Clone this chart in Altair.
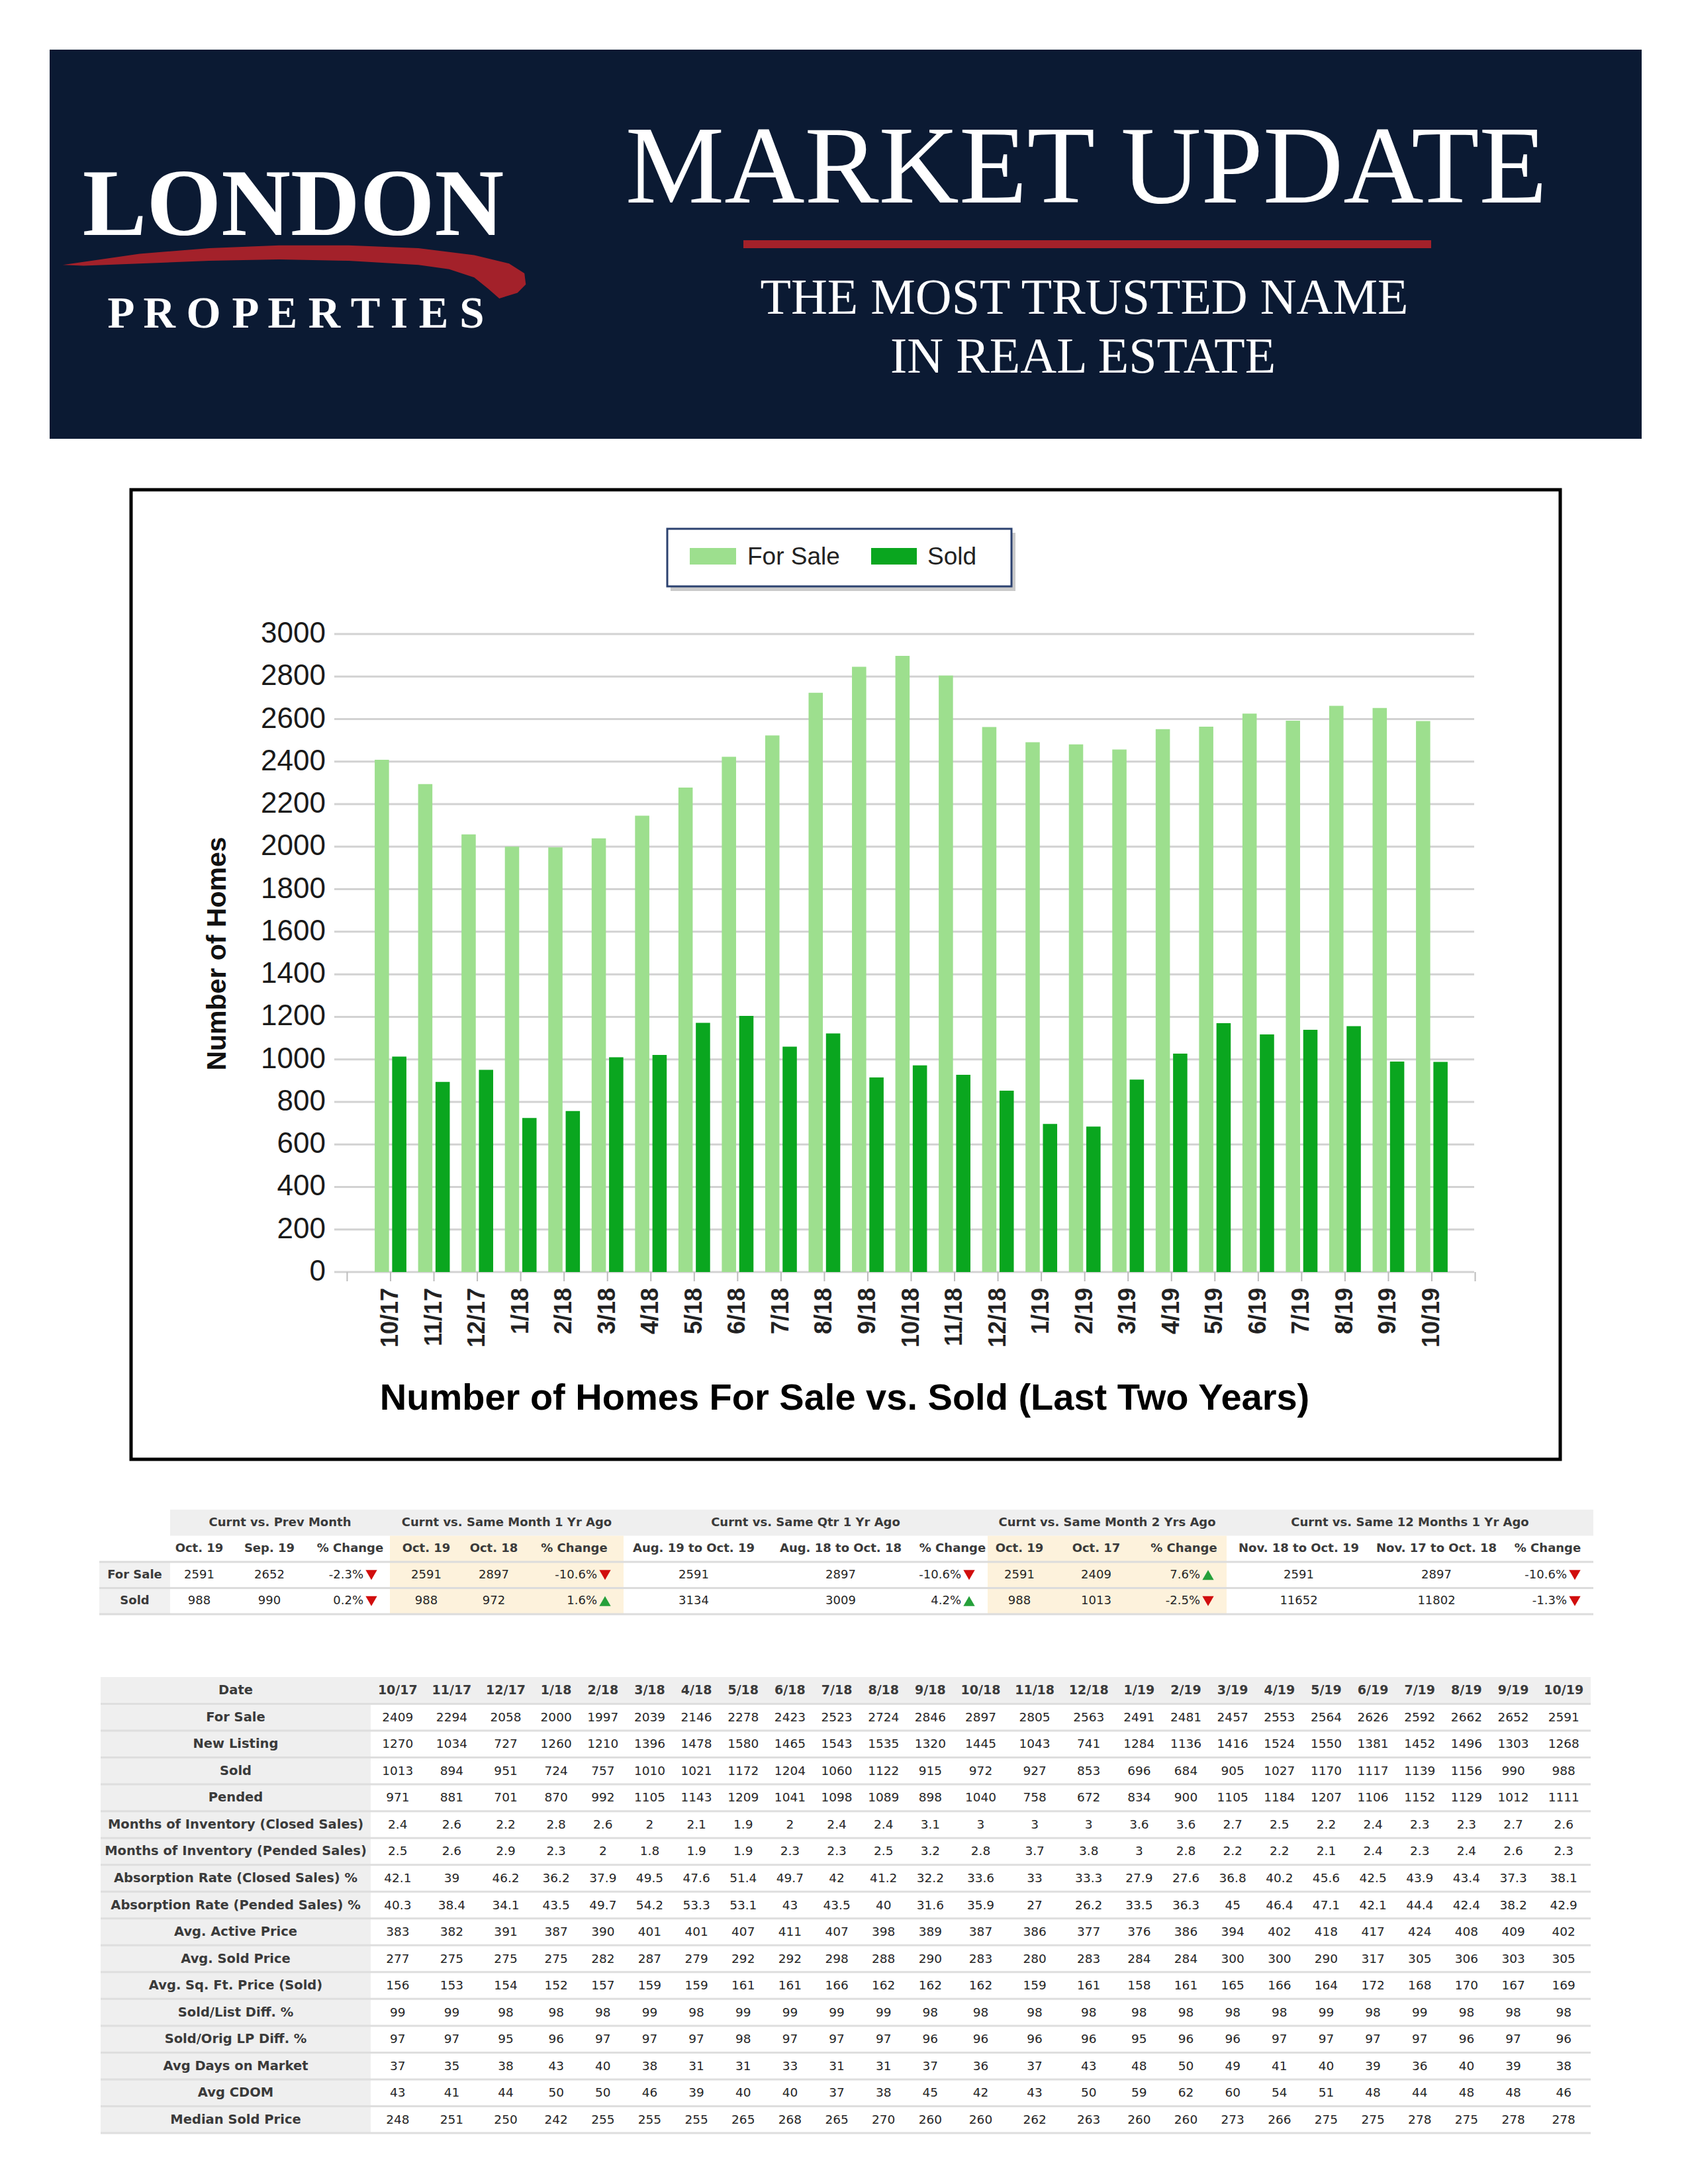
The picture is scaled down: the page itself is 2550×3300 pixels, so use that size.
import altair as alt
import pandas as pd

# ---------------------------------------------------------------- data
dates = ["10/17", "11/17", "12/17", "1/18", "2/18", "3/18", "4/18", "5/18", "6/18", "7/18",
         "8/18", "9/18", "10/18", "11/18", "12/18", "1/19", "2/19", "3/19", "4/19", "5/19",
         "6/19", "7/19", "8/19", "9/19", "10/19"]
for_sale = [2409, 2294, 2058, 2000, 1997, 2039, 2146, 2278, 2423, 2523, 2724, 2846, 2897, 2805, 2563,
            2491, 2481, 2457, 2553, 2564, 2626, 2592, 2662, 2652, 2591]
new_listing = [1270, 1034, 727, 1260, 1210, 1396, 1478, 1580, 1465, 1543, 1535, 1320, 1445, 1043, 741,
               1284, 1136, 1416, 1524, 1550, 1381, 1452, 1496, 1303, 1268]
sold = [1013, 894, 951, 724, 757, 1010, 1021, 1172, 1204, 1060, 1122, 915, 972, 927, 853,
        696, 684, 905, 1027, 1170, 1117, 1139, 1156, 990, 988]
pended = [971, 881, 701, 870, 992, 1105, 1143, 1209, 1041, 1098, 1089, 898, 1040, 758, 672,
          834, 900, 1105, 1184, 1207, 1106, 1152, 1129, 1012, 1111]
moi_closed = [2.4, 2.6, 2.2, 2.8, 2.6, 2, 2.1, 1.9, 2, 2.4, 2.4, 3.1, 3, 3, 3, 3.6, 3.6, 2.7, 2.5, 2.2,
              2.4, 2.3, 2.3, 2.7, 2.6]
moi_pended = [2.5, 2.6, 2.9, 2.3, 2, 1.8, 1.9, 1.9, 2.3, 2.3, 2.5, 3.2, 2.8, 3.7, 3.8, 3, 2.8, 2.2, 2.2, 2.1,
              2.4, 2.3, 2.4, 2.6, 2.3]
abs_closed = [42.1, 39, 46.2, 36.2, 37.9, 49.5, 47.6, 51.4, 49.7, 42, 41.2, 32.2, 33.6, 33, 33.3, 27.9, 27.6,
              36.8, 40.2, 45.6, 42.5, 43.9, 43.4, 37.3, 38.1]
abs_pended = [40.3, 38.4, 34.1, 43.5, 49.7, 54.2, 53.3, 53.1, 43, 43.5, 40, 31.6, 35.9, 27, 26.2, 33.5, 36.3,
              45, 46.4, 47.1, 42.1, 44.4, 42.4, 38.2, 42.9]
avg_active = [383, 382, 391, 387, 390, 401, 401, 407, 411, 407, 398, 389, 387, 386, 377, 376, 386, 394, 402,
              418, 417, 424, 408, 409, 402]
avg_sold = [277, 275, 275, 275, 282, 287, 279, 292, 292, 298, 288, 290, 283, 280, 283, 284, 284, 300, 300,
            290, 317, 305, 306, 303, 305]
sqft_price = [156, 153, 154, 152, 157, 159, 159, 161, 161, 166, 162, 162, 162, 159, 161, 158, 161, 165, 166,
              164, 172, 168, 170, 167, 169]
sold_list = [99, 99, 98, 98, 98, 99, 98, 99, 99, 99, 99, 98, 98, 98, 98, 98, 98, 98, 98, 99, 98, 99, 98, 98, 98]
sold_orig = [97, 97, 95, 96, 97, 97, 97, 98, 97, 97, 97, 96, 96, 96, 96, 95, 96, 96, 97, 97, 97, 97, 96, 97, 96]
dom = [37, 35, 38, 43, 40, 38, 31, 31, 33, 31, 31, 37, 36, 37, 43, 48, 50, 49, 41, 40, 39, 36, 40, 39, 38]
cdom = [43, 41, 44, 50, 50, 46, 39, 40, 40, 37, 38, 45, 42, 43, 50, 59, 62, 60, 54, 51, 48, 44, 48, 48, 46]
median_price = [248, 251, 250, 242, 255, 255, 255, 265, 268, 265, 270, 260, 260, 262, 263, 260, 260, 273, 266,
                275, 275, 278, 275, 278, 278]

series_names = ["For Sale", "Sold"]
y_ticks = [0, 200, 400, 600, 800, 1000, 1200, 1400, 1600, 1800, 2000, 2200, 2400, 2600, 2800, 3000]

t1_groups = ["Curnt vs. Prev Month", "Curnt vs. Same Month 1 Yr Ago", "Curnt vs. Same Qtr 1 Yr Ago",
             "Curnt vs. Same Month 2 Yrs Ago", "Curnt vs. Same 12 Months 1 Yr Ago"]
t1_cols = ["Oct. 19", "Sep. 19", "% Change", "Oct. 19", "Oct. 18", "% Change",
           "Aug. 19 to Oct. 19", "Aug. 18 to Oct. 18", "% Change", "Oct. 19", "Oct. 17", "% Change",
           "Nov. 18 to Oct. 19", "Nov. 17 to Oct. 18", "% Change"]
t1_for_sale = ["2591", "2652", "-2.3%", "2591", "2897", "-10.6%", "2591", "2897", "-10.6%",
               "2591", "2409", "7.6%", "2591", "2897", "-10.6%"]
t1_sold = ["988", "990", "0.2%", "988", "972", "1.6%", "3134", "3009", "4.2%",
           "988", "1013", "-2.5%", "11652", "11802", "-1.3%"]
t1_for_sale_dir = ["down", "down", "down", "up", "down"]
t1_sold_dir = ["down", "up", "up", "down", "down"]
t1_highlight_groups = [1, 3]

t2_rows = ["For Sale", "New Listing", "Sold", "Pended", "Months of Inventory (Closed Sales)",
           "Months of Inventory (Pended Sales)", "Absorption Rate (Closed Sales) %",
           "Absorption Rate (Pended Sales) %", "Avg. Active Price", "Avg. Sold Price",
           "Avg. Sq. Ft. Price (Sold)", "Sold/List Diff. %", "Sold/Orig LP Diff. %",
           "Avg Days on Market", "Avg CDOM", "Median Sold Price"]
t2_values = [for_sale, new_listing, sold, pended, moi_closed, moi_pended, abs_closed, abs_pended,
             avg_active, avg_sold, sqft_price, sold_list, sold_orig, dom, cdom, median_price]

# ---------------------------------------------------------------- layout / style
W, H = 2534, 3284
OFF = 8


def P(v):
    return v - OFF


SERIF = "Liberation Serif"
SANS = "Liberation Sans"
TAB = "DejaVu Sans"
NAVY = "#0b1a33"
RED = "#a3212a"
LIGHT_GREEN = "#9ddf8e"
DARK_GREEN = "#0aa61f"

one = pd.DataFrame({"k": [0]})


def txt(s, x, y, size, font, color, weight="normal", align="center", baseline="alphabetic", angle=0):
    return alt.Chart(one).mark_text(
        text=s, fontSize=size, font=font, color=color, fontWeight=weight,
        align=align, baseline=baseline, angle=angle
    ).encode(x=alt.value(P(x)), y=alt.value(P(y)))


def box(x0, x1, y0, y1, fill, stroke=None, sw=0, opacity=1.0):
    kw = dict(fill=fill, opacity=opacity)
    if stroke is not None:
        kw.update(stroke=stroke, strokeWidth=sw)
    return alt.Chart(one).mark_rect(**kw).encode(
        x=alt.value(P(x0)), x2=alt.value(P(x1)), y=alt.value(P(y0)), y2=alt.value(P(y1)))


layers = []

# ---------------------------------------------------------------- header
layers.append(box(75, 2480, 75, 663, NAVY))
layers.append(txt("LONDON", 443, 355, 145, SERIF, "white", "bold"))

# red swoosh logo outline (outer edge then inner edge), in half-scale page units
swoosh_outer = [(45, 190), (100, 182), (150, 178), (200, 176), (250, 176), (300, 178), (340, 183),
                (365, 189), (376, 196), (377, 204), (371, 210), (358, 214)]
swoosh_inner = [(350, 207), (340, 199), (322, 193), (300, 190), (250, 187), (200, 186), (150, 187),
                (100, 189), (60, 190.5)]
S_SCALE, S_CX, S_CY, S_UNIT = 2.107, 445, 408, 350
swoosh = "M " + " L ".join(
    f"{(a * S_SCALE - S_CX) / S_UNIT:.4f} {(b * S_SCALE - S_CY) / S_UNIT:.4f}"
    for a, b in swoosh_outer + swoosh_inner) + " Z"
layers.append(alt.Chart(one).mark_point(
    shape=swoosh, filled=True, size=(2 * S_UNIT) ** 2, color=RED, opacity=1, strokeWidth=0
).encode(x=alt.value(P(S_CX)), y=alt.value(P(S_CY))))
layers.append(txt("P R O P E R T I E S", 447, 495, 67, SERIF, "white", "bold"))

layers.append(txt("MARKET UPDATE", 1641, 306, 168, SERIF, "white"))
layers.append(box(1123, 2162, 363, 375, RED))
layers.append(txt("THE MOST TRUSTED NAME", 1638, 474, 76, SERIF, "white"))
layers.append(txt("IN REAL ESTATE", 1636, 563, 76, SERIF, "white"))

# ---------------------------------------------------------------- bar chart
layers.append(box(198, 2357, 740, 2205, "white", "black", 5))

x_domain = ["pad_l"] + dates + ["pad_r"]
xscale = alt.Scale(domain=x_domain, range=[P(491.7), P(2261.3)], paddingInner=0.27, paddingOuter=0.135)
yscale = alt.Scale(domain=[0, 3000], range=[P(1922), P(958)], nice=False, zero=True)
cscale = alt.Scale(domain=series_names, range=[LIGHT_GREEN, DARK_GREEN])

ticks_df = pd.DataFrame({"t": y_ticks, "lab": [str(t) for t in y_ticks]})
layers.append(alt.Chart(ticks_df).mark_rule(color="#d2d2d2", strokeWidth=3).encode(
    y=alt.Y("t:Q", scale=yscale, axis=None), x=alt.value(P(505)), x2=alt.value(P(2227))))
layers.append(alt.Chart(ticks_df).mark_text(
    align="right", baseline="middle", fontSize=44, font=SANS, color="#1a1a1a"
).encode(y=alt.Y("t:Q", scale=yscale, axis=None), x=alt.value(P(492)), text="lab:N"))

bars_df = pd.DataFrame({
    "date": dates * 2,
    "series": [series_names[0]] * len(dates) + [series_names[1]] * len(dates),
    "value": for_sale + sold,
})
layers.append(alt.Chart(bars_df).mark_bar().encode(
    x=alt.X("date:N", scale=xscale, axis=None),
    xOffset=alt.XOffset("series:N", scale=alt.Scale(domain=series_names, paddingInner=0.18, paddingOuter=0)),
    y=alt.Y("value:Q", scale=yscale, axis=None),
    color=alt.Color("series:N", scale=cscale, legend=None),
))

xt_df = pd.DataFrame({"d": x_domain})
layers.append(alt.Chart(xt_df).mark_rule(color="#bcbcbc", strokeWidth=2).encode(
    x=alt.X("d:N", scale=xscale, axis=None), y=alt.value(P(1922)), y2=alt.value(P(1936))))
xl_df = pd.DataFrame({"d": dates})
layers.append(alt.Chart(xl_df).mark_text(
    angle=270, align="right", baseline="middle", fontSize=36, fontWeight="bold", font=SANS, color="#222222"
).encode(x=alt.X("d:N", scale=xscale, axis=None), y=alt.value(P(1946)), text="d:N"))

layers.append(txt("Number of Homes", 329, 1441, 41, SANS, "#111111", "bold", baseline="middle", angle=270))
layers.append(txt("Number of Homes For Sale vs. Sold (Last Two Years)", 1276, 2130, 56, SANS, "black", "bold"))

# legend
layers.append(box(1013, 1534, 805, 893, "#b3b3b3", opacity=0.7))
layers.append(box(1008, 1528, 799, 886, "white", "#2c4270", 3))
leg_pos = {"For Sale": (1042, 1112, 1129), "Sold": (1316, 1385, 1401)}
for s in series_names:
    x0, x1, tx = leg_pos[s]
    layers.append(alt.Chart(pd.DataFrame({"series": [s]})).mark_rect().encode(
        x=alt.value(P(x0)), x2=alt.value(P(x1)), y=alt.value(P(828)), y2=alt.value(P(853)),
        color=alt.Color("series:N", scale=cscale, legend=None)))
    layers.append(txt(s, tx, 853, 37, SANS, "#222222", align="left"))

# ---------------------------------------------------------------- table 1 (summary)
ident = alt.Scale(domain=[0, W], range=[0, W], nice=False, zero=False)
t1_widths = [88, 124, 120, 110, 94, 149, 212, 232, 106, 96, 136, 129, 218, 198, 138]
t1_left, t1_label_left = 257, 150
edges = [t1_left]
for w in t1_widths:
    edges.append(edges[-1] + w)
t1_rows = ["grp", "sub", "For Sale", "Sold"]
t1y = alt.Scale(domain=t1_rows, range=[P(2281), P(2439)], paddingInner=0, paddingOuter=0)

bg = [dict(x0=P(t1_left), x1=P(edges[-1]), row="grp", fill="#efefef")]
for g in t1_highlight_groups:
    for r in ["sub", "For Sale", "Sold"]:
        bg.append(dict(x0=P(edges[3 * g]), x1=P(edges[3 * g + 3]), row=r, fill="#fdf2dc"))
for r in ["For Sale", "Sold"]:
    bg.append(dict(x0=P(t1_label_left), x1=P(t1_left), row=r, fill="#f1f1f1"))
bg = pd.DataFrame(bg)
layers.append(alt.Chart(bg).mark_rect().encode(
    x=alt.X("x0:Q", scale=ident, axis=None), x2="x1:Q",
    y=alt.Y("row:N", scale=t1y, axis=None), color=alt.Color("fill:N", scale=None)))

ln = pd.DataFrame({"row": ["sub", "For Sale", "Sold"], "x0": P(t1_label_left), "x1": P(edges[-1])})
layers.append(alt.Chart(ln).mark_rule(color="#dcdcdc", strokeWidth=3).encode(
    x=alt.X("x0:Q", scale=ident, axis=None), x2="x1:Q",
    y=alt.Y("row:N", scale=t1y, axis=None, bandPosition=1)))

bold_cells = []
for g, name in enumerate(t1_groups):
    bold_cells.append(dict(row="grp", cx=P((edges[3 * g] + edges[3 * g + 3]) / 2), t=name))
for i, name in enumerate(t1_cols):
    bold_cells.append(dict(row="sub", cx=P((edges[i] + edges[i + 1]) / 2), t=name))
for r in ["For Sale", "Sold"]:
    bold_cells.append(dict(row=r, cx=P((t1_label_left + t1_left) / 2), t=r))
layers.append(alt.Chart(pd.DataFrame(bold_cells)).mark_text(
    fontSize=18, font=TAB, fontWeight="bold", color="#3a3a3a", baseline="middle"
).encode(x=alt.X("cx:Q", scale=ident, axis=None), y=alt.Y("row:N", scale=t1y, axis=None), text="t:N"))

val_cells, pct_cells, arrows = [], [], []
for r, vals, dirs in [("For Sale", t1_for_sale, t1_for_sale_dir), ("Sold", t1_sold, t1_sold_dir)]:
    for i, v in enumerate(vals):
        if i % 3 == 2:
            pct_cells.append(dict(row=r, cx=P(edges[i + 1] - 40), t=v))
            arrows.append(dict(row=r, cx=P(edges[i + 1] - 28), dir=dirs[i // 3]))
        else:
            val_cells.append(dict(row=r, cx=P((edges[i] + edges[i + 1]) / 2), t=v))
layers.append(alt.Chart(pd.DataFrame(val_cells)).mark_text(
    fontSize=18, font=TAB, color="#262626", baseline="middle"
).encode(x=alt.X("cx:Q", scale=ident, axis=None), y=alt.Y("row:N", scale=t1y, axis=None), text="t:N"))
layers.append(alt.Chart(pd.DataFrame(pct_cells)).mark_text(
    fontSize=18, font=TAB, color="#262626", baseline="middle", align="right"
).encode(x=alt.X("cx:Q", scale=ident, axis=None), y=alt.Y("row:N", scale=t1y, axis=None), text="t:N"))
layers.append(alt.Chart(pd.DataFrame(arrows)).mark_point(filled=True, size=300, opacity=1, strokeWidth=0).encode(
    x=alt.X("cx:Q", scale=ident, axis=None), y=alt.Y("row:N", scale=t1y, axis=None),
    shape=alt.Shape("dir:N", scale=alt.Scale(domain=["down", "up"], range=["triangle-down", "triangle-up"]), legend=None),
    color=alt.Color("dir:N", scale=alt.Scale(domain=["down", "up"], range=["#d10d0d", "#25a03a"]), legend=None)))

# ---------------------------------------------------------------- table 2 (monthly detail)
t2_label_left, t2_left, t2_right = 152, 560, 2403
rel = [len(d) + 2.45 for d in dates]
k = (t2_right - t2_left) / sum(rel)
t2_edges = [t2_left]
for r_ in rel:
    t2_edges.append(t2_edges[-1] + r_ * k)
t2_centers = {d: P((t2_edges[i] + t2_edges[i + 1]) / 2) for i, d in enumerate(dates)}
t2_all_rows = ["Date"] + t2_rows
t2y = alt.Scale(domain=t2_all_rows, range=[P(2534), P(3223)], paddingInner=0, paddingOuter=0)

bg2 = [dict(x0=P(t2_label_left), x1=P(t2_right), row="Date", fill="#efefef")]
for r in t2_rows:
    bg2.append(dict(x0=P(t2_label_left), x1=P(t2_left), row=r, fill="#efefef"))
layers.append(alt.Chart(pd.DataFrame(bg2)).mark_rect().encode(
    x=alt.X("x0:Q", scale=ident, axis=None), x2="x1:Q",
    y=alt.Y("row:N", scale=t2y, axis=None), color=alt.Color("fill:N", scale=None)))
ln2 = pd.DataFrame({"row": t2_all_rows, "x0": P(t2_label_left), "x1": P(t2_right)})
layers.append(alt.Chart(ln2).mark_rule(color="#dedede", strokeWidth=3).encode(
    x=alt.X("x0:Q", scale=ident, axis=None), x2="x1:Q",
    y=alt.Y("row:N", scale=t2y, axis=None, bandPosition=1)))

label_cells = [dict(row="Date", cx=P((t2_label_left + t2_left) / 2), t="Date")]
label_cells += [dict(row=r, cx=P((t2_label_left + t2_left) / 2), t=r) for r in t2_rows]
layers.append(alt.Chart(pd.DataFrame(label_cells)).mark_text(
    fontSize=19.5, font=TAB, fontWeight="bold", color="#3a3a3a", baseline="middle"
).encode(x=alt.X("cx:Q", scale=ident, axis=None), y=alt.Y("row:N", scale=t2y, axis=None), text="t:N"))
date_cells = [dict(row="Date", cx=t2_centers[d], t=d) for d in dates]
layers.append(alt.Chart(pd.DataFrame(date_cells)).mark_text(
    fontSize=19, font=TAB, fontWeight="bold", color="#3a3a3a", baseline="middle"
).encode(x=alt.X("cx:Q", scale=ident, axis=None), y=alt.Y("row:N", scale=t2y, axis=None), text="t:N"))

vals2 = []
for r, vals in zip(t2_rows, t2_values):
    for d, v in zip(dates, vals):
        vals2.append(dict(row=r, cx=t2_centers[d], t=str(v)))
layers.append(alt.Chart(pd.DataFrame(vals2)).mark_text(
    fontSize=18.5, font=TAB, color="#262626", baseline="middle"
).encode(x=alt.X("cx:Q", scale=ident, axis=None), y=alt.Y("row:N", scale=t2y, axis=None), text="t:N"))

# ---------------------------------------------------------------- assemble
chart = alt.layer(*layers).resolve_scale(
    x="independent", y="independent", color="independent", shape="independent"
).properties(
    width=W, height=H, padding=0, autosize=alt.AutoSizeParams(type="none"), background="white"
).configure_view(strokeWidth=0)

chart.save("out.html", embed_options={"renderer": "svg", "actions": False})
